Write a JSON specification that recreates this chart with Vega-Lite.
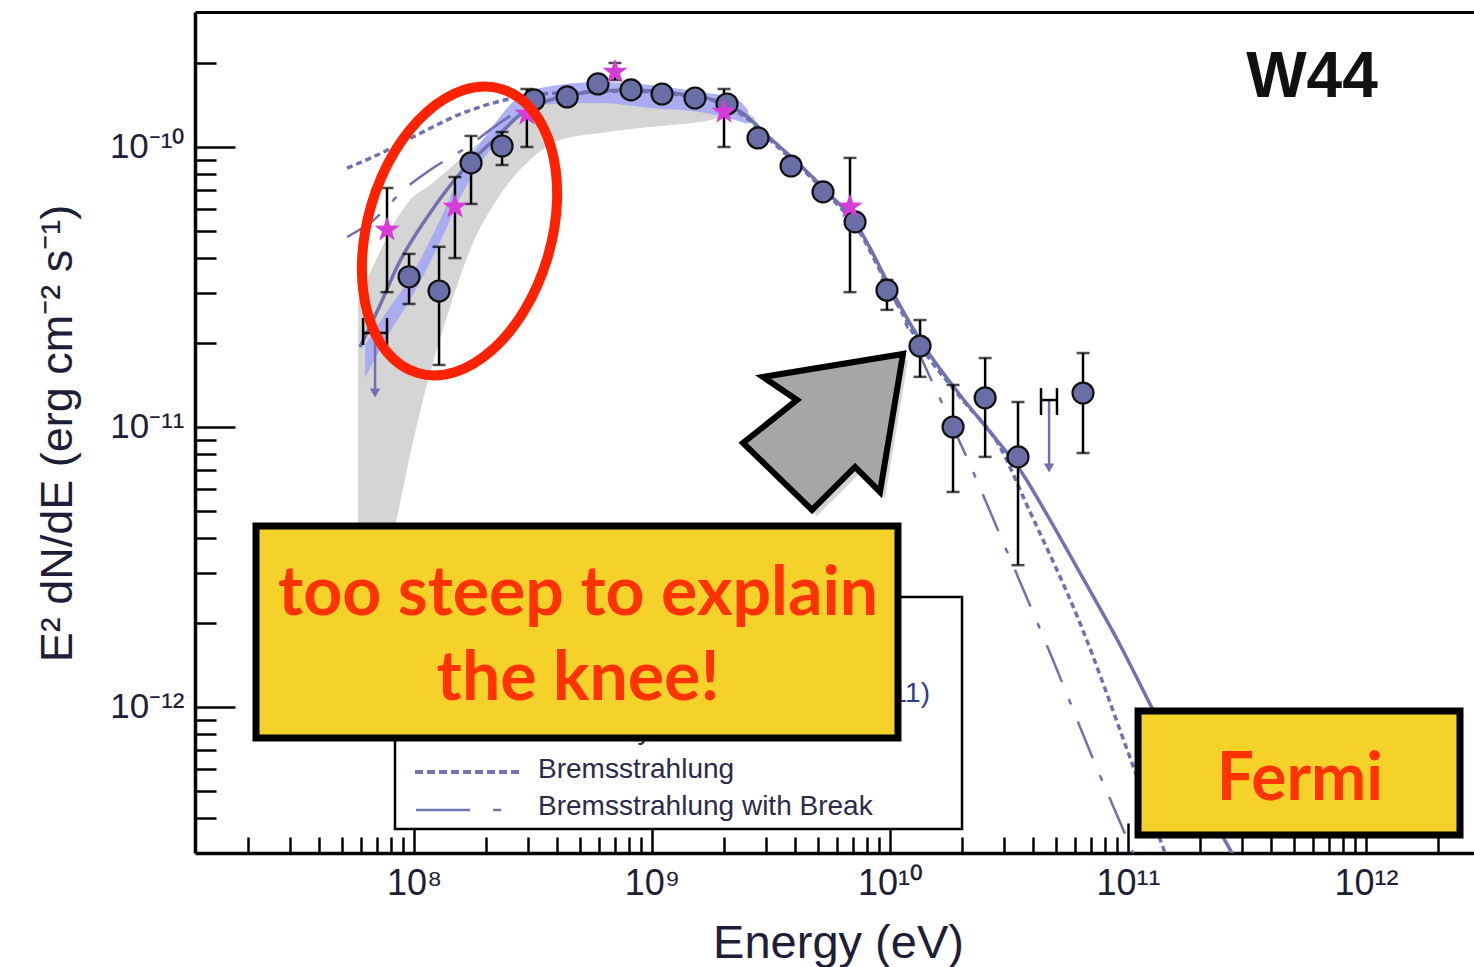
{
  "$schema": "https://vega.github.io/schema/vega-lite/v6.json",
  "width": 1279,
  "height": 841,
  "autosize": {"type": "none"},
  "padding": {"left": 195, "top": 12, "right": 0, "bottom": 114},
  "background": "white",
  "config": {"view": {"stroke": null}, "axis": {"grid": false}},
  "resolve": {"axis": {"x": "independent", "y": "independent"}},
  "datasets": {
    "gray": [
      {"E": 5.82e7, "top": 2.84e-11, "bot": 3.35e-12},
      {"E": 6.86e7, "top": 3.88e-11, "bot": 3.35e-12},
      {"E": 8.32e7, "top": 5.40e-11, "bot": 4.47e-12},
      {"E": 9.62e7, "top": 6.47e-11, "bot": 7.94e-12},
      {"E": 1.168e8, "top": 7.31e-11, "bot": 1.559e-11},
      {"E": 1.417e8, "top": 8.41e-11, "bot": 2.68e-11},
      {"E": 1.719e8, "top": 9.76e-11, "bot": 4.29e-11},
      {"E": 2.298e8, "top": 1.169e-10, "bot": 6.74e-11},
      {"E": 3.07e8, "top": 1.448e-10, "bot": 8.99e-11},
      {"E": 4.11e8, "top": 1.533e-10, "bot": 1.059e-10},
      {"E": 6.05e8, "top": 1.585e-10, "bot": 1.122e-10},
      {"E": 9.81e8, "top": 1.585e-10, "bot": 1.179e-10},
      {"E": 1.591e9, "top": 1.521e-10, "bot": 1.228e-10},
      {"E": 2.343e9, "top": 1.378e-10, "bot": 1.301e-10},
      {"E": 2.709e9, "top": 1.269e-10, "bot": 1.248e-10}
    ],
    "blue": [
      {"E": 6.23e7, "top": 1.963e-11, "bot": 1.496e-11},
      {"E": 7.78e7, "top": 2.62e-11, "bot": 2.13e-11},
      {"E": 9.62e7, "top": 3.40e-11, "bot": 2.84e-11},
      {"E": 1.286e8, "top": 5.49e-11, "bot": 4.58e-11},
      {"E": 1.607e8, "top": 8.28e-11, "bot": 6.91e-11},
      {"E": 2.086e8, "top": 1.150e-10, "bot": 9.76e-11},
      {"E": 2.657e8, "top": 1.472e-10, "bot": 1.248e-10},
      {"E": 3.384e8, "top": 1.624e-10, "bot": 1.413e-10},
      {"E": 6.05e8, "top": 1.707e-10, "bot": 1.436e-10},
      {"E": 9.81e8, "top": 1.665e-10, "bot": 1.378e-10},
      {"E": 1.591e9, "top": 1.572e-10, "bot": 1.334e-10},
      {"E": 2.232e9, "top": 1.496e-10, "bot": 1.248e-10},
      {"E": 2.532e9, "top": 1.355e-10, "bot": 1.208e-10}
    ],
    "models": [
      {"m": "pi", "E": 5.93e7, "F": 1.931e-11},
      {"m": "pi", "E": 7.20e7, "F": 2.727e-11},
      {"m": "pi", "E": 8.48e7, "F": 3.73e-11},
      {"m": "pi", "E": 1.168e8, "F": 5.81e-11},
      {"m": "pi", "E": 1.607e8, "F": 8.28e-11},
      {"m": "pi", "E": 2.232e8, "F": 1.086e-10},
      {"m": "pi", "E": 2.789e8, "F": 1.301e-10},
      {"m": "pi", "E": 3.728e8, "F": 1.472e-10},
      {"m": "pi", "E": 5.49e8, "F": 1.572e-10},
      {"m": "pi", "E": 8.08e8, "F": 1.599e-10},
      {"m": "pi", "E": 1.311e9, "F": 1.546e-10},
      {"m": "pi", "E": 1.931e9, "F": 1.448e-10},
      {"m": "pi", "E": 2.459e9, "F": 1.301e-10},
      {"m": "pi", "E": 3.131e9, "F": 1.077e-10},
      {"m": "pi", "E": 4.186e9, "F": 8.62e-11},
      {"m": "pi", "E": 5.60e9, "F": 6.74e-11},
      {"m": "pi", "E": 7.13e9, "F": 5.40e-11},
      {"m": "pi", "E": 8.24e9, "F": 4.36e-11},
      {"m": "pi", "E": 1.0e10, "F": 3.16e-11},
      {"m": "pi", "E": 1.337e10, "F": 2.045e-11},
      {"m": "pi", "E": 1.968e10, "F": 1.301e-11},
      {"m": "pi", "E": 2.632e10, "F": 9.60e-12},
      {"m": "pi", "E": 3.52e10, "F": 7.02e-12},
      {"m": "pi", "E": 4.70e10, "F": 4.66e-12},
      {"m": "pi", "E": 6.60e10, "F": 2.796e-12},
      {"m": "pi", "E": 9.26e10, "F": 1.665e-12},
      {"m": "pi", "E": 1.274e11, "F": 9.76e-13},
      {"m": "pi", "E": 1.822e11, "F": 5.49e-13},
      {"m": "pi", "E": 2.735e11, "F": 3.01e-13},
      {"m": "pi", "E": 3.586e11, "F": 1.963e-13},
      {"m": "br", "E": 5.23e7, "F": 8.41e-11},
      {"m": "br", "E": 6.73e7, "F": 9.21e-11},
      {"m": "br", "E": 9.90e7, "F": 1.086e-10},
      {"m": "br", "E": 1.607e8, "F": 1.322e-10},
      {"m": "br", "E": 2.232e8, "F": 1.448e-10},
      {"m": "br", "E": 3.07e8, "F": 1.533e-10},
      {"m": "br", "E": 5.49e8, "F": 1.572e-10},
      {"m": "br", "E": 8.08e8, "F": 1.585e-10},
      {"m": "br", "E": 1.311e9, "F": 1.533e-10},
      {"m": "br", "E": 1.931e9, "F": 1.436e-10},
      {"m": "br", "E": 2.459e9, "F": 1.280e-10},
      {"m": "br", "E": 3.131e9, "F": 1.059e-10},
      {"m": "br", "E": 4.186e9, "F": 8.48e-11},
      {"m": "br", "E": 5.60e9, "F": 6.63e-11},
      {"m": "br", "E": 7.13e9, "F": 5.26e-11},
      {"m": "br", "E": 1.0e10, "F": 3.08e-11},
      {"m": "br", "E": 1.337e10, "F": 1.963e-11},
      {"m": "br", "E": 1.968e10, "F": 1.280e-11},
      {"m": "br", "E": 2.90e10, "F": 8.48e-12},
      {"m": "br", "E": 3.76e10, "F": 5.26e-12},
      {"m": "br", "E": 6.28e10, "F": 1.995e-12},
      {"m": "br", "E": 1.050e11, "F": 6.16e-13},
      {"m": "br", "E": 1.43e11, "F": 3.01e-13},
      {"m": "br", "E": 1.654e11, "F": 2.13e-13},
      {"m": "bk", "E": 5.23e7, "F": 4.77e-11},
      {"m": "bk", "E": 6.53e7, "F": 5.35e-11},
      {"m": "bk", "E": 9.35e7, "F": 7.20e-11},
      {"m": "bk", "E": 1.168e8, "F": 8.28e-11},
      {"m": "bk", "E": 1.670e8, "F": 1.0e-10},
      {"m": "bk", "E": 2.232e8, "F": 1.199e-10},
      {"m": "bk", "E": 2.789e8, "F": 1.355e-10},
      {"m": "bk", "E": 3.728e8, "F": 1.472e-10},
      {"m": "bk", "E": 5.49e8, "F": 1.572e-10},
      {"m": "bk", "E": 8.08e8, "F": 1.599e-10},
      {"m": "bk", "E": 1.311e9, "F": 1.546e-10},
      {"m": "bk", "E": 1.931e9, "F": 1.448e-10},
      {"m": "bk", "E": 2.459e9, "F": 1.301e-10},
      {"m": "bk", "E": 3.131e9, "F": 1.077e-10},
      {"m": "bk", "E": 4.186e9, "F": 8.62e-11},
      {"m": "bk", "E": 5.60e9, "F": 6.74e-11},
      {"m": "bk", "E": 7.13e9, "F": 5.40e-11},
      {"m": "bk", "E": 1.0e10, "F": 3.08e-11},
      {"m": "bk", "E": 1.376e10, "F": 1.707e-11},
      {"m": "bk", "E": 2.106e10, "F": 7.75e-12},
      {"m": "bk", "E": 3.19e10, "F": 3.40e-12},
      {"m": "bk", "E": 4.80e10, "F": 1.496e-12},
      {"m": "bk", "E": 7.13e10, "F": 6.52e-13},
      {"m": "bk", "E": 1.05e11, "F": 3.01e-13},
      {"m": "bk", "E": 1.237e11, "F": 2.13e-13}
    ],
    "fermi": [
      {"E": 9.53e7, "F": 3.44e-11, "lo": 2.75e-11, "hi": 4.15e-11},
      {"E": 1.274e8, "F": 3.06e-11, "lo": 1.665e-11, "hi": 4.40e-11},
      {"E": 1.736e8, "F": 8.77e-11, "lo": 6.26e-11, "hi": 1.095e-10},
      {"E": 2.344e8, "F": 1.008e-10, "lo": 8.62e-11, "hi": 1.131e-10},
      {"E": 3.19e8, "F": 1.472e-10, "lo": null, "hi": null},
      {"E": 4.40e8, "F": 1.509e-10, "lo": null, "hi": null},
      {"E": 5.93e8, "F": 1.679e-10, "lo": null, "hi": null},
      {"E": 8.16e8, "F": 1.599e-10, "lo": null, "hi": null},
      {"E": 1.102e9, "F": 1.546e-10, "lo": null, "hi": null},
      {"E": 1.516e9, "F": 1.496e-10, "lo": null, "hi": null},
      {"E": 2.066e9, "F": 1.424e-10, "lo": null, "hi": null},
      {"E": 2.788e9, "F": 1.077e-10, "lo": null, "hi": null},
      {"E": 3.84e9, "F": 8.55e-11, "lo": null, "hi": null},
      {"E": 5.23e9, "F": 6.91e-11, "lo": null, "hi": null},
      {"E": 7.13e9, "F": 5.40e-11, "lo": null, "hi": null},
      {"E": 9.71e9, "F": 3.08e-11, "lo": 2.62e-11, "hi": 3.35e-11},
      {"E": 1.337e10, "F": 1.946e-11, "lo": 1.51e-11, "hi": 2.41e-11},
      {"E": 1.84e10, "F": 1.0e-11, "lo": 5.86e-12, "hi": 1.413e-11},
      {"E": 2.51e10, "F": 1.271e-11, "lo": 7.82e-12, "hi": 1.763e-11},
      {"E": 3.45e10, "F": 7.82e-12, "lo": 3.21e-12, "hi": 1.228e-11},
      {"E": 6.47e10, "F": 1.322e-11, "lo": 8.07e-12, "hi": 1.837e-11}
    ],
    "agile": [
      {"E": 7.70e7, "F": 5.06e-11, "lo": 3.03e-11, "hi": 7.14e-11},
      {"E": 1.486e8, "F": 6.11e-11, "lo": 4.01e-11, "hi": 7.81e-11},
      {"E": 2.98e8, "F": 1.312e-10, "lo": 1.0e-10, "hi": 1.611e-10},
      {"E": 6.99e8, "F": 1.853e-10, "lo": 1.734e-10, "hi": 1.995e-10},
      {"E": 2.007e9, "F": 1.334e-10, "lo": 1.0e-10, "hi": 1.611e-10},
      {"E": 6.79e9, "F": 6.11e-11, "lo": 3.03e-11, "hi": 9.14e-11}
    ],
    "ul": [
      {"E": 4.66e10, "F": 1.248e-11, "Fend": 7.14e-12, "E1": 4.31e10, "E2": 5.03e10, "c1": 1.377e-11, "c2": 1.104e-11},
      {"E": 6.86e7, "F": 2.167e-11, "Fend": 1.322e-11, "E1": 6.11e7, "E2": 7.70e7, "c1": 2.45e-11, "c2": 1.963e-11}
    ],
    "boxes": [
      {"k": "legend", "x1": 8.32e7, "x2": 2.007e10, "y1": 2.47e-12, "y2": 3.67e-13},
      {"k": "yellow", "x1": 2.168e7, "x2": 1.080e10, "y1": 4.43e-12, "y2": 7.75e-13},
      {"k": "yellow", "x1": 1.102e11, "x2": 2.483e12, "y1": 9.67e-13, "y2": 3.49e-13}
    ],
    "legtext": [
      {"t": "Bremsstrahlung", "E": 3.32e8, "F": 5.58e-13},
      {"t": "Bremsstrahlung with Break", "E": 3.32e8, "F": 4.11e-13},
      {"t": "π⁰-decay", "E": 3.32e8, "F": 7.69e-13}
    ],
    "notes": [
      {"t": "too steep to explain", "E": 4.89e8, "F": 2.13e-12},
      {"t": "the knee!", "E": 4.89e8, "F": 1.059e-12},
      {"t": "Fermi", "E": 5.28e11, "F": 4.66e-13}
    ]
  },
  "layer": [
    {
      "data": {"name": "gray"},
      "mark": {"type": "area", "color": "#d5d5d5", "interpolate": "monotone", "clip": true},
      "encoding": {
        "x": {"field": "E", "type": "quantitative", "scale": {"type": "log", "domain": [12015000, 2843000000000], "nice": false},
          "axis": {"orient": "bottom", "values": [1e8, 1e9, 1e10, 1e11, 1e12], "ticks": false, "tickSize": 0, "labelPadding": 13,
            "labelFont": "Liberation Sans", "labelFontSize": 36, "labelColor": "#1e1e38",
            "labelExpr": "datum.value < 5e8 ? '10⁸' : datum.value < 5e9 ? '10⁹' : datum.value < 5e10 ? '10¹⁰' : datum.value < 5e11 ? '10¹¹' : '10¹²'",
            "domain": true, "domainColor": "black", "domainWidth": 3.5, "grid": false,
            "title": "Energy (eV)", "titleFont": "Liberation Sans", "titleFontSize": 47, "titleFontWeight": "normal", "titleColor": "#1e1e38",
            "titleX": 643, "titleY": 90, "titleBaseline": "middle", "titleAlign": "center"}},
        "y": {"field": "top", "type": "quantitative", "scale": {"type": "log", "domain": [3.01e-13, 3.034e-10], "nice": false},
          "axis": {"orient": "left", "values": [1e-12, 1e-11, 1e-10], "ticks": false, "tickSize": 0, "labelPadding": 11,
            "labelFont": "Liberation Sans", "labelFontSize": 35, "labelColor": "#1e1e38",
            "labelExpr": "datum.value < 5e-12 ? '10⁻¹²' : datum.value < 5e-11 ? '10⁻¹¹' : '10⁻¹⁰'",
            "domain": true, "domainColor": "black", "domainWidth": 3.5, "grid": false,
            "title": "E² dN/dE (erg cm⁻² s⁻¹)", "titleFont": "Liberation Sans", "titleFontSize": 45, "titleFontWeight": "normal", "titleColor": "#1e1e38",
            "titleX": -138, "titleY": 421, "titleAngle": -90, "titleBaseline": "middle", "titleAlign": "center"}},
        "y2": {"field": "bot"}
      }
    },
    {
      "data": {"name": "blue"},
      "mark": {"type": "area", "color": "#a2a5f4", "opacity": 0.85, "interpolate": "monotone", "clip": true},
      "encoding": {
        "x": {"field": "E", "type": "quantitative", "scale": {"type": "log", "domain": [12015000, 2843000000000], "nice": false},
          "axis": {"orient": "bottom", "values": [1e8, 1e9, 1e10, 1e11, 1e12], "tickSize": -30, "tickWidth": 2.5, "tickColor": "black", "labels": false, "domain": false, "grid": false, "title": null}},
        "y": {"field": "top", "type": "quantitative", "scale": {"type": "log", "domain": [3.01e-13, 3.034e-10], "nice": false},
          "axis": {"orient": "left", "values": [1e-12, 1e-11, 1e-10], "tickSize": -40, "tickWidth": 2.5, "tickColor": "black", "labels": false, "domain": false, "grid": false, "title": null}},
        "y2": {"field": "bot"}
      }
    },
    {
      "data": {"name": "models"},
      "transform": [{"filter": "datum.m == 'pi'"}],
      "mark": {"type": "line", "color": "#7173b1", "strokeWidth": 3.5, "interpolate": "monotone", "clip": true},
      "encoding": {
        "x": {"field": "E", "type": "quantitative", "scale": {"type": "log", "domain": [12015000, 2843000000000], "nice": false},
          "axis": {"orient": "bottom", "values": [2e7,3e7,4e7,5e7,6e7,7e7,8e7,9e7,2e8,3e8,4e8,5e8,6e8,7e8,8e8,9e8,2e9,3e9,4e9,5e9,6e9,7e9,8e9,9e9,2e10,3e10,4e10,5e10,6e10,7e10,8e10,9e10,2e11,3e11,4e11,5e11,6e11,7e11,8e11,9e11,2e12],
            "tickSize": -16, "tickWidth": 2.5, "tickColor": "black", "labels": false, "domain": false, "grid": false, "title": null}},
        "y": {"field": "F", "type": "quantitative", "scale": {"type": "log", "domain": [3.01e-13, 3.034e-10], "nice": false},
          "axis": {"orient": "left", "values": [4e-13,5e-13,6e-13,7e-13,8e-13,9e-13,2e-12,3e-12,4e-12,5e-12,6e-12,7e-12,8e-12,9e-12,2e-11,3e-11,4e-11,5e-11,6e-11,7e-11,8e-11,9e-11,2e-10],
            "tickSize": -21, "tickWidth": 2.5, "tickColor": "black", "labels": false, "domain": false, "grid": false, "title": null}}
      }
    },
    {
      "data": {"name": "models"},
      "transform": [{"filter": "datum.m == 'br'"}],
      "mark": {"type": "line", "color": "#6f71b0", "strokeWidth": 3.5, "strokeDash": [6, 4], "interpolate": "monotone", "clip": true},
      "encoding": {
        "x": {"field": "E", "type": "quantitative", "scale": {"type": "log", "domain": [12015000, 2843000000000], "nice": false},
          "axis": {"orient": "top", "values": [], "ticks": false, "labels": false, "domain": true, "domainColor": "black", "domainWidth": 3, "grid": false, "title": null}},
        "y": {"field": "F", "type": "quantitative", "scale": {"type": "log", "domain": [3.01e-13, 3.034e-10], "nice": false}, "axis": null}
      }
    },
    {
      "data": {"name": "models"},
      "transform": [{"filter": "datum.m == 'bk'"}],
      "mark": {"type": "line", "color": "#6f71b0", "strokeWidth": 2.5, "strokeDash": [40, 18, 6, 18], "interpolate": "monotone", "clip": true},
      "encoding": {
        "x": {"field": "E", "type": "quantitative", "scale": {"type": "log", "domain": [12015000, 2843000000000], "nice": false}, "axis": null},
        "y": {"field": "F", "type": "quantitative", "scale": {"type": "log", "domain": [3.01e-13, 3.034e-10], "nice": false}, "axis": null}
      }
    },
    {
      "data": {"name": "fermi"},
      "transform": [{"filter": "isValid(datum.lo)"}],
      "mark": {"type": "rule", "color": "black", "strokeWidth": 2.5},
      "encoding": {
        "x": {"field": "E", "type": "quantitative", "scale": {"type": "log", "domain": [12015000, 2843000000000], "nice": false}, "axis": null},
        "y": {"field": "lo", "type": "quantitative", "scale": {"type": "log", "domain": [3.01e-13, 3.034e-10], "nice": false}, "axis": null},
        "y2": {"field": "hi"}
      }
    },
    {
      "data": {"name": "fermi"},
      "transform": [{"filter": "isValid(datum.lo)"}],
      "mark": {"type": "tick", "orient": "horizontal", "color": "black", "thickness": 2.5, "size": 13},
      "encoding": {
        "x": {"field": "E", "type": "quantitative", "scale": {"type": "log", "domain": [12015000, 2843000000000], "nice": false}, "axis": null},
        "y": {"field": "lo", "type": "quantitative", "scale": {"type": "log", "domain": [3.01e-13, 3.034e-10], "nice": false}, "axis": null}
      }
    },
    {
      "data": {"name": "fermi"},
      "transform": [{"filter": "isValid(datum.hi)"}],
      "mark": {"type": "tick", "orient": "horizontal", "color": "black", "thickness": 2.5, "size": 13},
      "encoding": {
        "x": {"field": "E", "type": "quantitative", "scale": {"type": "log", "domain": [12015000, 2843000000000], "nice": false}, "axis": null},
        "y": {"field": "hi", "type": "quantitative", "scale": {"type": "log", "domain": [3.01e-13, 3.034e-10], "nice": false}, "axis": null}
      }
    },
    {
      "data": {"name": "agile"},
      "mark": {"type": "rule", "color": "black", "strokeWidth": 2.5},
      "encoding": {
        "x": {"field": "E", "type": "quantitative", "scale": {"type": "log", "domain": [12015000, 2843000000000], "nice": false}, "axis": null},
        "y": {"field": "lo", "type": "quantitative", "scale": {"type": "log", "domain": [3.01e-13, 3.034e-10], "nice": false}, "axis": null},
        "y2": {"field": "hi"}
      }
    },
    {
      "data": {"name": "agile"},
      "mark": {"type": "tick", "orient": "horizontal", "color": "black", "thickness": 2.5, "size": 13},
      "encoding": {
        "x": {"field": "E", "type": "quantitative", "scale": {"type": "log", "domain": [12015000, 2843000000000], "nice": false}, "axis": null},
        "y": {"field": "lo", "type": "quantitative", "scale": {"type": "log", "domain": [3.01e-13, 3.034e-10], "nice": false}, "axis": null}
      }
    },
    {
      "data": {"name": "agile"},
      "mark": {"type": "tick", "orient": "horizontal", "color": "black", "thickness": 2.5, "size": 13},
      "encoding": {
        "x": {"field": "E", "type": "quantitative", "scale": {"type": "log", "domain": [12015000, 2843000000000], "nice": false}, "axis": null},
        "y": {"field": "hi", "type": "quantitative", "scale": {"type": "log", "domain": [3.01e-13, 3.034e-10], "nice": false}, "axis": null}
      }
    },
    {
      "data": {"name": "ul"},
      "mark": {"type": "rule", "color": "#6f71b0", "strokeWidth": 2.5},
      "encoding": {
        "x": {"field": "E", "type": "quantitative", "scale": {"type": "log", "domain": [12015000, 2843000000000], "nice": false}, "axis": null},
        "y": {"field": "F", "type": "quantitative", "scale": {"type": "log", "domain": [3.01e-13, 3.034e-10], "nice": false}, "axis": null},
        "y2": {"field": "Fend"}
      }
    },
    {
      "data": {"name": "ul"},
      "mark": {"type": "point", "shape": "triangle-down", "filled": true, "color": "#6f71b0", "size": 110, "opacity": 1},
      "encoding": {
        "x": {"field": "E", "type": "quantitative", "scale": {"type": "log", "domain": [12015000, 2843000000000], "nice": false}, "axis": null},
        "y": {"field": "Fend", "type": "quantitative", "scale": {"type": "log", "domain": [3.01e-13, 3.034e-10], "nice": false}, "axis": null}
      }
    },
    {
      "data": {"name": "ul"},
      "mark": {"type": "rule", "color": "black", "strokeWidth": 2.5},
      "encoding": {
        "x": {"field": "E1", "type": "quantitative", "scale": {"type": "log", "domain": [12015000, 2843000000000], "nice": false}, "axis": null},
        "x2": {"field": "E2"},
        "y": {"field": "F", "type": "quantitative", "scale": {"type": "log", "domain": [3.01e-13, 3.034e-10], "nice": false}, "axis": null}
      }
    },
    {
      "data": {"name": "ul"},
      "mark": {"type": "rule", "color": "black", "strokeWidth": 2.5},
      "encoding": {
        "x": {"field": "E1", "type": "quantitative", "scale": {"type": "log", "domain": [12015000, 2843000000000], "nice": false}, "axis": null},
        "y": {"field": "c1", "type": "quantitative", "scale": {"type": "log", "domain": [3.01e-13, 3.034e-10], "nice": false}, "axis": null},
        "y2": {"field": "c2"}
      }
    },
    {
      "data": {"name": "ul"},
      "mark": {"type": "rule", "color": "black", "strokeWidth": 2.5},
      "encoding": {
        "x": {"field": "E2", "type": "quantitative", "scale": {"type": "log", "domain": [12015000, 2843000000000], "nice": false}, "axis": null},
        "y": {"field": "c1", "type": "quantitative", "scale": {"type": "log", "domain": [3.01e-13, 3.034e-10], "nice": false}, "axis": null},
        "y2": {"field": "c2"}
      }
    },
    {
      "data": {"name": "fermi"},
      "mark": {"type": "point", "shape": "circle", "filled": true, "color": "#6a6ea6", "stroke": "#111111", "strokeWidth": 2.2, "size": 440, "opacity": 1},
      "encoding": {
        "x": {"field": "E", "type": "quantitative", "scale": {"type": "log", "domain": [12015000, 2843000000000], "nice": false}, "axis": null},
        "y": {"field": "F", "type": "quantitative", "scale": {"type": "log", "domain": [3.01e-13, 3.034e-10], "nice": false}, "axis": null}
      }
    },
    {
      "data": {"name": "agile"},
      "mark": {"type": "point", "shape": "M0,-1L0.2351,-0.3236L0.9511,-0.309L0.3804,0.1236L0.5878,0.809L0,0.4L-0.5878,0.809L-0.3804,0.1236L-0.9511,-0.309L-0.2351,-0.3236Z", "filled": true, "color": "#d63cd8", "size": 700, "opacity": 1},
      "encoding": {
        "x": {"field": "E", "type": "quantitative", "scale": {"type": "log", "domain": [12015000, 2843000000000], "nice": false}, "axis": null},
        "y": {"field": "F", "type": "quantitative", "scale": {"type": "log", "domain": [3.01e-13, 3.034e-10], "nice": false}, "axis": null}
      }
    },
    {
      "data": {"name": "boxes"},
      "transform": [{"filter": "datum.k == 'legend'"}],
      "mark": {"type": "rect", "fill": "white", "stroke": "black", "strokeWidth": 2.5},
      "encoding": {
        "x": {"field": "x1", "type": "quantitative", "scale": {"type": "log", "domain": [12015000, 2843000000000], "nice": false}, "axis": null},
        "x2": {"field": "x2"},
        "y": {"field": "y1", "type": "quantitative", "scale": {"type": "log", "domain": [3.01e-13, 3.034e-10], "nice": false}, "axis": null},
        "y2": {"field": "y2"}
      }
    },
    {
      "data": {"values": [{"E1": 1.010e8, "E2": 2.789e8, "F": 5.86e-13}]},
      "mark": {"type": "rule", "color": "#7375b3", "strokeWidth": 4, "strokeDash": [8, 4]},
      "encoding": {
        "x": {"field": "E1", "type": "quantitative", "scale": {"type": "log", "domain": [12015000, 2843000000000], "nice": false}, "axis": null},
        "x2": {"field": "E2"},
        "y": {"field": "F", "type": "quantitative", "scale": {"type": "log", "domain": [3.01e-13, 3.034e-10], "nice": false}, "axis": null}
      }
    },
    {
      "data": {"values": [{"E1": 1.02e8, "E2": 2.32e8, "F": 4.29e-13}]},
      "mark": {"type": "rule", "color": "#7375b3", "strokeWidth": 2.5, "strokeDash": [54, 23, 8, 100]},
      "encoding": {
        "x": {"field": "E1", "type": "quantitative", "scale": {"type": "log", "domain": [12015000, 2843000000000], "nice": false}, "axis": null},
        "x2": {"field": "E2"},
        "y": {"field": "F", "type": "quantitative", "scale": {"type": "log", "domain": [3.01e-13, 3.034e-10], "nice": false}, "axis": null}
      }
    },
    {
      "data": {"name": "legtext"},
      "mark": {"type": "text", "font": "Liberation Sans", "fontSize": 28, "color": "#2a2a4a", "align": "left", "baseline": "alphabetic"},
      "encoding": {
        "x": {"field": "E", "type": "quantitative", "scale": {"type": "log", "domain": [12015000, 2843000000000], "nice": false}, "axis": null},
        "y": {"field": "F", "type": "quantitative", "scale": {"type": "log", "domain": [3.01e-13, 3.034e-10], "nice": false}, "axis": null},
        "text": {"field": "t"}
      }
    },
    {
      "data": {"values": [{"t": "et al. 2011)", "E": 1.472e10, "F": 1.042e-12}]},
      "mark": {"type": "text", "font": "Liberation Sans", "fontSize": 28, "color": "#2a3f8f", "align": "right", "baseline": "alphabetic"},
      "encoding": {
        "x": {"field": "E", "type": "quantitative", "scale": {"type": "log", "domain": [12015000, 2843000000000], "nice": false}, "axis": null},
        "y": {"field": "F", "type": "quantitative", "scale": {"type": "log", "domain": [3.01e-13, 3.034e-10], "nice": false}, "axis": null},
        "text": {"field": "t"}
      }
    },
    {
      "data": {"name": "boxes"},
      "transform": [{"filter": "datum.k == 'yellow'"}],
      "mark": {"type": "rect", "fill": "#777777", "opacity": 0.35, "xOffset": 5, "yOffset": 6},
      "encoding": {
        "x": {"field": "x1", "type": "quantitative", "scale": {"type": "log", "domain": [12015000, 2843000000000], "nice": false}, "axis": null},
        "x2": {"field": "x2"},
        "y": {"field": "y1", "type": "quantitative", "scale": {"type": "log", "domain": [3.01e-13, 3.034e-10], "nice": false}, "axis": null},
        "y2": {"field": "y2"}
      }
    },
    {
      "data": {"name": "boxes"},
      "transform": [{"filter": "datum.k == 'yellow'"}],
      "mark": {"type": "rect", "fill": "#f5d22a", "stroke": "black", "strokeWidth": 7},
      "encoding": {
        "x": {"field": "x1", "type": "quantitative", "scale": {"type": "log", "domain": [12015000, 2843000000000], "nice": false}, "axis": null},
        "x2": {"field": "x2"},
        "y": {"field": "y1", "type": "quantitative", "scale": {"type": "log", "domain": [3.01e-13, 3.034e-10], "nice": false}, "axis": null},
        "y2": {"field": "y2"}
      }
    },
    {
      "data": {"name": "notes"},
      "transform": [{"filter": "datum.t != 'Fermi'"}],
      "mark": {"type": "text", "font": "Lato", "fontWeight": "bold", "fontSize": 68, "color": "#ff3300", "align": "center", "baseline": "alphabetic"},
      "encoding": {
        "x": {"field": "E", "type": "quantitative", "scale": {"type": "log", "domain": [12015000, 2843000000000], "nice": false}, "axis": null},
        "y": {"field": "F", "type": "quantitative", "scale": {"type": "log", "domain": [3.01e-13, 3.034e-10], "nice": false}, "axis": null},
        "text": {"field": "t"}
      }
    },
    {
      "data": {"name": "notes"},
      "transform": [{"filter": "datum.t == 'Fermi'"}],
      "mark": {"type": "text", "font": "Lato", "fontWeight": "bold", "fontSize": 66, "color": "#ff3300", "align": "center", "baseline": "alphabetic"},
      "encoding": {
        "x": {"field": "E", "type": "quantitative", "scale": {"type": "log", "domain": [12015000, 2843000000000], "nice": false}, "axis": null},
        "y": {"field": "F", "type": "quantitative", "scale": {"type": "log", "domain": [3.01e-13, 3.034e-10], "nice": false}, "axis": null},
        "text": {"field": "t"}
      }
    },
    {
      "data": {"values": [{"t": "W44", "E": 5.93e11, "F": 1.509e-10}]},
      "mark": {"type": "text", "font": "Liberation Sans", "fontWeight": "bold", "fontSize": 64, "color": "#111111", "align": "center", "baseline": "alphabetic"},
      "encoding": {
        "x": {"field": "E", "type": "quantitative", "scale": {"type": "log", "domain": [12015000, 2843000000000], "nice": false}, "axis": null},
        "y": {"field": "F", "type": "quantitative", "scale": {"type": "log", "domain": [3.01e-13, 3.034e-10], "nice": false}, "axis": null},
        "text": {"field": "t"}
      }
    },
    {
      "data": {"values": [{"E": 5.23e9, "F": 9.60e-12}]},
      "mark": {"type": "point", "shape": "M0.8,-0.78L0.57,0.6L0.32,0.35L-0.11,0.78L-0.8,0.11L-0.26,-0.32L-0.6,-0.55Z", "filled": true, "color": "#888888", "opacity": 0.35, "size": 40000, "xOffset": 5, "yOffset": 6},
      "encoding": {
        "x": {"field": "E", "type": "quantitative", "scale": {"type": "log", "domain": [12015000, 2843000000000], "nice": false}, "axis": null},
        "y": {"field": "F", "type": "quantitative", "scale": {"type": "log", "domain": [3.01e-13, 3.034e-10], "nice": false}, "axis": null}
      }
    },
    {
      "data": {"values": [{"E": 5.23e9, "F": 9.60e-12}]},
      "mark": {"type": "point", "shape": "M0.8,-0.78L0.57,0.6L0.32,0.35L-0.11,0.78L-0.8,0.11L-0.26,-0.32L-0.6,-0.55Z", "filled": true, "color": "#a4a7a5", "stroke": "black", "strokeWidth": 6, "strokeJoin": "miter", "size": 40000, "opacity": 1},
      "encoding": {
        "x": {"field": "E", "type": "quantitative", "scale": {"type": "log", "domain": [12015000, 2843000000000], "nice": false}, "axis": null},
        "y": {"field": "F", "type": "quantitative", "scale": {"type": "log", "domain": [3.01e-13, 3.034e-10], "nice": false}, "axis": null}
      }
    },
    {
      "data": {"values": [{"E": 1.553e8, "F": 5.01e-11}]},
      "mark": {"type": "point", "shape": "M0.2786,-0.9468C0.6034,-0.8512 0.742,-0.3498 0.5881,0.1731C0.4342,0.696 0.0462,1.0424 -0.2786,0.9468C-0.6034,0.8512 -0.742,0.3498 -0.5881,-0.1731C-0.4342,-0.696 -0.0462,-1.0424 0.2786,-0.9468Z", "filled": false, "stroke": "#ff2200", "strokeWidth": 10, "size": 90000, "opacity": 1},
      "encoding": {
        "x": {"field": "E", "type": "quantitative", "scale": {"type": "log", "domain": [12015000, 2843000000000], "nice": false}, "axis": null},
        "y": {"field": "F", "type": "quantitative", "scale": {"type": "log", "domain": [3.01e-13, 3.034e-10], "nice": false}, "axis": null}
      }
    }
  ]
}
